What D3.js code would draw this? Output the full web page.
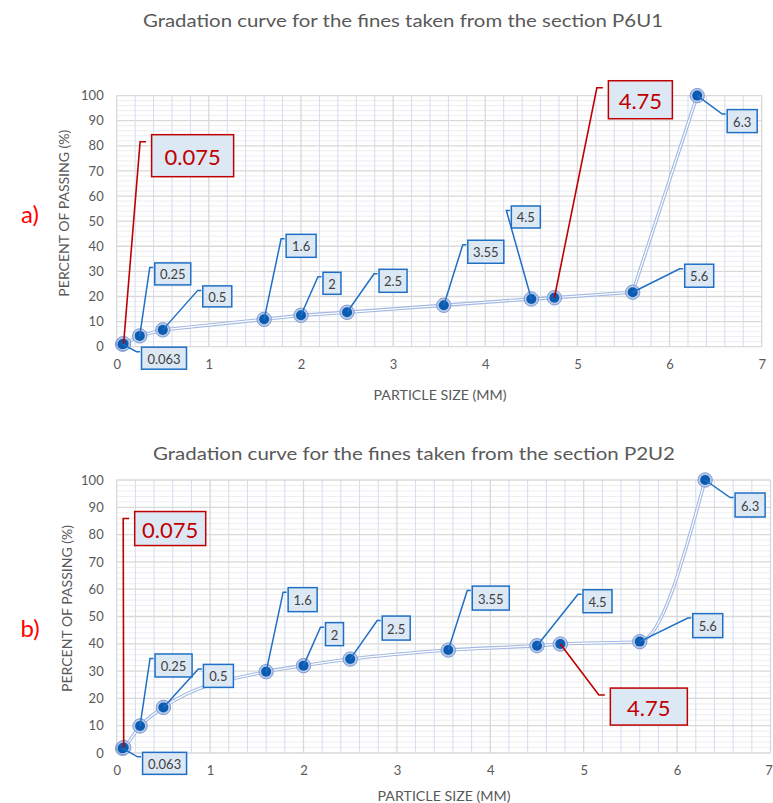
<!DOCTYPE html>
<html>
<head>
<meta charset="utf-8">
<script src="https://cdn.jsdelivr.net/npm/d3@7"></script>
<style>
  body { margin: 0; background: #ffffff; }
  svg { display: block; }
</style>
</head>
<body>
<svg id="chart" width="773" height="803"></svg>
<script>
// Sieve sizes (mm) and percent passing for the two sampled sections
const sieveSizes  = [0.063, 0.075, 0.25, 0.5, 1.6, 2, 2.5, 3.55, 4.5, 4.75, 5.6, 6.3];
const passingP6U1 = [1.0, 1.2, 4.3, 6.7, 10.9, 12.5, 13.7, 16.5, 19.0, 19.5, 21.7, 100];
const passingP2U2 = [1.7, 2.0, 9.9, 16.7, 29.8, 32.0, 34.4, 37.7, 39.3, 39.9, 40.8, 100];
const sieveLabels = ["0.063", "0.075", "0.25", "0.5", "1.6", "2", "2.5", "3.55", "4.5", "4.75", "5.6", "6.3"];
const highlightedSieves = ["0.075", "4.75"];
const xTickValues = [0, 1, 2, 3, 4, 5, 6, 7];
const yTickValues = [0, 10, 20, 30, 40, 50, 60, 70, 80, 90, 100];

// Callout box placement per sieve: [dx, dy, width, height] relative to the marker
const calloutsA = [
  [19, 3, 45, 22], [28, -209, 82, 42], [15, -73, 36, 22], [40, -44, 29, 21],
  [22, -85, 30, 23], [22, -43, 18, 22], [32, -43, 28, 23], [24, -65, 36, 23],
  [-20, -93, 29, 22], [54, -217, 64, 38], [52, -28, 29, 23], [30, 14, 30, 23]
];
const calloutsB = [
  [20, 4, 44, 22], [11, -236, 71, 34], [15, -72, 37, 23], [40, -43, 30, 23],
  [22, -84, 29, 24], [22, -43, 18, 23], [32, -43, 28, 24], [24, -64, 37, 24],
  [46, -56, 29, 23], [50, 44, 77, 37], [53, -28, 30, 24], [30, 13, 30, 24]
];

const panels = [
  {
    title: "Gradation curve for the fines taken from the section P6U1",
    titleX: 403, titleY: 20, titleLen: 520,
    letter: "a)", letterX: 30, letterY: 213,
    values: passingP6U1, callouts: calloutsA, smooth: false,
    left: 116.7, right: 761.7, top: 95.6, bottom: 346.7,
    yTitleX: 64, xTitleY: 395, xTitleX: 440
  },
  {
    title: "Gradation curve for the fines taken from the section P2U2",
    titleX: 414, titleY: 453, titleLen: 522,
    letter: "b)", letterX: 30, letterY: 627,
    values: passingP2U2, callouts: calloutsB, smooth: true,
    left: 116.7, right: 770.5, top: 480, bottom: 753,
    yTitleX: 67, xTitleY: 796, xTitleX: 444
  }
];

const FONT = "Lato, 'Open Sans', 'DejaVu Sans', sans-serif";
const svg = d3.select("#chart");

panels.forEach(p => {
  const g = svg.append("g");
  const x = d3.scaleLinear().domain([0, 7]).range([p.left, p.right]);
  const y = d3.scaleLinear().domain([0, 100]).range([p.bottom, p.top]);

  // Title and panel letter
  g.append("text")
    .attr("x", p.titleX).attr("y", p.titleY)
    .attr("text-anchor", "middle").attr("dominant-baseline", "central")
    .attr("textLength", p.titleLen).attr("lengthAdjust", "spacingAndGlyphs")
    .style("font-family", FONT).style("font-size", "18px").style("fill", "#595959")
    .text(p.title);
  g.append("text")
    .attr("x", p.letterX).attr("y", p.letterY)
    .attr("text-anchor", "middle").attr("dominant-baseline", "central")
    .style("font-family", FONT).style("font-size", "24px").style("fill", "#ff0000")
    .text(p.letter);

  // Grid: minor lines first, then the major ones
  const grid = g.append("g");
  grid.selectAll(".ymin").data(d3.range(0, 101, 2).filter(v => v % 10 !== 0)).join("line")
    .attr("x1", p.left).attr("x2", p.right)
    .attr("y1", d => y(d)).attr("y2", d => y(d))
    .attr("stroke", "#eeeeee").attr("stroke-width", 1);
  grid.selectAll(".xmin").data(d3.range(1, 35).map(i => i * 0.2).filter(v => Math.abs(v - Math.round(v)) > 1e-6)).join("line")
    .attr("x1", d => x(d)).attr("x2", d => x(d))
    .attr("y1", p.top).attr("y2", p.bottom)
    .attr("stroke", "#d2ddf1").attr("stroke-width", 1);
  grid.selectAll(".ymaj").data(yTickValues).join("line")
    .attr("x1", p.left).attr("x2", p.right)
    .attr("y1", d => y(d)).attr("y2", d => y(d))
    .attr("stroke", "#d9d9d9").attr("stroke-width", 1.3);
  grid.selectAll(".xmaj").data(xTickValues).join("line")
    .attr("x1", d => x(d)).attr("x2", d => x(d))
    .attr("y1", p.top).attr("y2", p.bottom)
    .attr("stroke", "#d9d9d9").attr("stroke-width", 1.3);

  // Axes (tick labels only)
  const xAxis = g.append("g").attr("transform", `translate(0,${p.bottom})`)
    .call(d3.axisBottom(x).tickValues(xTickValues).tickSize(0).tickPadding(13).tickFormat(d3.format("d")));
  const yAxis = g.append("g").attr("transform", `translate(${p.left},0)`)
    .call(d3.axisLeft(y).tickValues(yTickValues).tickSize(0).tickPadding(13).tickFormat(d3.format("d")));
  [xAxis, yAxis].forEach(a => {
    a.select(".domain").remove();
    a.selectAll("text").style("font-family", FONT).style("font-size", "13px").style("fill", "#595959");
  });
  // keep the last x tick label inside the page edge
  xAxis.selectAll(".tick text").filter(d => d === 7 && x(7) > 766).attr("dx", -2);

  // Axis titles
  g.append("text")
    .attr("transform", `translate(${p.yTitleX},${(p.top + p.bottom) / 2 - 8}) rotate(-90)`)
    .attr("text-anchor", "middle").attr("dominant-baseline", "central")
    .attr("textLength", 167).attr("lengthAdjust", "spacingAndGlyphs")
    .style("font-family", FONT).style("font-size", "13px").style("fill", "#595959")
    .text("PERCENT OF PASSING (%)");
  g.append("text")
    .attr("x", p.xTitleX).attr("y", p.xTitleY)
    .attr("text-anchor", "middle").attr("dominant-baseline", "central")
    .attr("textLength", 133).attr("lengthAdjust", "spacingAndGlyphs")
    .style("font-family", FONT).style("font-size", "13px").style("fill", "#595959")
    .text("PARTICLE SIZE (MM)");

  // Gradation curve drawn as a light double line
  const pts = sieveSizes.map((s, i) => ({ s, v: p.values[i], label: sieveLabels[i], box: p.callouts[i] }));
  const line = d3.line().x(d => x(d.s)).y(d => y(d.v))
    .curve(p.smooth ? d3.curveMonotoneX : d3.curveLinear);
  g.append("path").datum(pts).attr("d", line)
    .attr("fill", "none").attr("stroke", "#a3b9e3").attr("stroke-width", 3.4);
  g.append("path").datum(pts).attr("d", line)
    .attr("fill", "none").attr("stroke", "#ffffff").attr("stroke-width", 1.2);

  // Markers
  const marks = g.append("g");
  marks.selectAll(".ring").data(pts).join("circle")
    .attr("cx", d => x(d.s)).attr("cy", d => y(d.v)).attr("r", 7.2)
    .attr("fill", "#b8c9ea").attr("stroke", "#7d9bd2").attr("stroke-width", 1);
  marks.selectAll(".dot").data(pts).join("circle")
    .attr("cx", d => x(d.s)).attr("cy", d => y(d.v)).attr("r", 5)
    .attr("fill", "#0b5cb0");

  // Callouts: leader line with a short horizontal tick, then the boxed label
  const callouts = g.append("g");
  pts.forEach(d => {
    const red = highlightedSieves.includes(d.label);
    const color = red ? "#c00000" : "#1f6fc5";
    const px = x(d.s), py = y(d.v);
    const [dx, dy, w, h] = d.box;
    const bx = px + dx, by = py + dy;
    const gap = red ? 5.5 : 1.5, tick = red ? 6 : 3.5, k = red ? 7 : 4.5;
    callouts.append("polyline")
      .attr("points", `${px},${py} ${bx - gap - tick},${by + k} ${bx - gap},${by + k}`)
      .attr("fill", "none").attr("stroke", color).attr("stroke-width", red ? 1.6 : 1.5);
    callouts.append("rect")
      .attr("x", bx).attr("y", by).attr("width", w).attr("height", h)
      .attr("fill", "#dde8f5").attr("stroke", color).attr("stroke-width", 1.5);
    callouts.append("text")
      .attr("x", bx + w / 2).attr("y", by + h / 2 + 0.5)
      .attr("text-anchor", "middle").attr("dominant-baseline", "central")
      .style("font-family", FONT).style("font-size", red ? "22px" : "13px")
      .style("fill", red ? "#c00000" : "#404040")
      .text(d.label);
  });
});
</script>
</body>
</html>
